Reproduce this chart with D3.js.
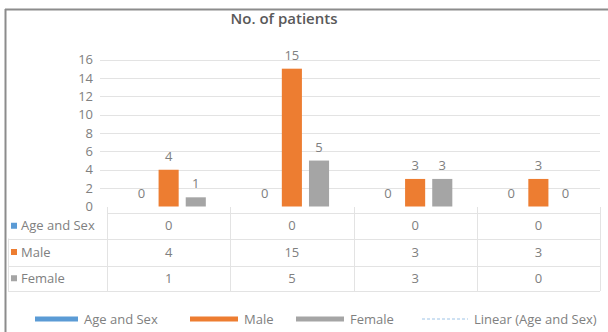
<!DOCTYPE html>
<html>
<head>
<meta charset="utf-8">
<script src="https://cdn.jsdelivr.net/npm/d3@7"></script>
<style>
  html, body { margin: 0; padding: 0; background: #fff; }
  svg { display: block; font-family: "Open Sans", "Liberation Sans", sans-serif; }
</style>
</head>
<body>
<svg id="chart" width="608" height="332"></svg>
<script>
// Chart data
const categories = ["g1", "g2", "g3", "g4"];
const seriesNames = ["Age and Sex", "Male", "Female"];
const ageAndSex = [0, 0, 0, 0];
const male = [4, 15, 3, 3];
const female = [1, 5, 3, 0];
const yTicks = [0, 2, 4, 6, 8, 10, 12, 14, 16];
const colors = ["#5B9BD5", "#ED7D31", "#A5A5A5"];
const trendName = "Linear (Age and Sex)";

const series = [ageAndSex, male, female];
const svg = d3.select("#chart");
const textColor = "#808080";
const fs = 13;

// Outer frame (top and left edges)
svg.append("line").attr("x1", 5).attr("x2", 608).attr("y1", 9.5).attr("y2", 9.5)
  .attr("stroke", "#8c8c8c").attr("stroke-width", 2);
svg.append("line").attr("x1", 5.5).attr("x2", 5.5).attr("y1", 9).attr("y2", 332)
  .attr("stroke", "#8c8c8c").attr("stroke-width", 2);

// Title
svg.append("text").attr("x", 284).attr("y", 24).attr("text-anchor", "middle")
  .attr("font-size", 15).attr("font-weight", 600).attr("fill", "#595959")
  .text("No. of patients");

// Scales
const x = d3.scaleBand().domain(categories).range([107, 600]);
const y = d3.scaleLinear().domain([0, 16]).range([206.5, 59.5]);
const inner = d3.scaleBand().domain(seriesNames).range([0, x.bandwidth()])
  .paddingInner(0.26).paddingOuter(0.9);

// Gridlines
svg.append("g").selectAll("line").data(yTicks.filter(d => d > 0)).join("line")
  .attr("x1", 100).attr("x2", 600)
  .attr("y1", d => Math.round(y(d)) + 0.5).attr("y2", d => Math.round(y(d)) + 0.5)
  .attr("stroke", "#e3e3e3").attr("stroke-width", 1);

// Y axis
const yAxis = d3.axisLeft(y).tickValues(yTicks).tickSize(0).tickPadding(0);
const gy = svg.append("g").attr("transform", "translate(93,0)").call(yAxis);
gy.select(".domain").remove();
gy.selectAll("text").attr("fill", textColor).attr("font-size", fs)
  .attr("font-family", "Open Sans, sans-serif");

// Bars
const groups = svg.append("g").selectAll("g").data(categories).join("g")
  .attr("transform", d => `translate(${x(d)},0)`);
seriesNames.forEach((name, si) => {
  groups.append("rect")
    .attr("x", inner(name))
    .attr("width", inner.bandwidth())
    .attr("y", (d, i) => y(series[si][i]))
    .attr("height", (d, i) => y(0) - y(series[si][i]))
    .attr("fill", colors[si]);
  groups.append("text")
    .attr("x", inner(name) + inner.bandwidth() / 2)
    .attr("y", (d, i) => y(series[si][i]) - 9)
    .attr("text-anchor", "middle")
    .attr("font-size", fs).attr("fill", textColor)
    .text((d, i) => series[si][i]);
});

// Data table below the plot
const rowTop = 213, rowH = [25.5, 27, 25.5];
const rowY = [rowTop, rowTop + rowH[0], rowTop + rowH[0] + rowH[1], rowTop + rowH[0] + rowH[1] + rowH[2]];
const table = svg.append("g");
rowY.forEach((ry, k) => {
  table.append("line").attr("x1", k === 0 ? 107 : 8).attr("x2", 600)
    .attr("y1", Math.round(ry) + 0.5).attr("y2", Math.round(ry) + 0.5)
    .attr("stroke", "#e3e3e3");
});
table.append("line").attr("x1", 8.5).attr("x2", 8.5).attr("y1", rowY[1]).attr("y2", rowY[3])
  .attr("stroke", "#e3e3e3");
[...categories.map(c => x(c)), 600].forEach(cx => {
  table.append("line").attr("x1", Math.round(cx) + 0.5).attr("x2", Math.round(cx) + 0.5)
    .attr("y1", 207).attr("y2", rowY[3]).attr("stroke", "#e3e3e3");
});
seriesNames.forEach((name, si) => {
  const cy = (rowY[si] + rowY[si + 1]) / 2;
  table.append("rect").attr("x", 11).attr("y", cy - 3).attr("width", 6).attr("height", 6)
    .attr("fill", colors[si]);
  table.append("text").attr("x", 21).attr("y", cy + 4.5).attr("font-size", fs)
    .attr("fill", textColor).text(name);
  categories.forEach((c, ci) => {
    table.append("text").attr("x", x(c) + x.bandwidth() / 2).attr("y", cy + 4.5)
      .attr("text-anchor", "middle").attr("font-size", fs).attr("fill", textColor)
      .text(series[si][ci]);
  });
});

// Legend
const legendY = 319;
const legendItems = [
  { name: seriesNames[0], color: colors[0], x: 35, dash: null, w: 43, sw: 5 },
  { name: seriesNames[1], color: colors[1], x: 190, dash: null, w: 48, sw: 5 },
  { name: seriesNames[2], color: colors[2], x: 296, dash: null, w: 48, sw: 5 },
  { name: trendName, color: "#9DC3E6", x: 422, dash: "3,2", w: 46, sw: 1 }
];
const lg = svg.append("g");
legendItems.forEach(it => {
  lg.append("line").attr("x1", it.x).attr("x2", it.x + it.w)
    .attr("y1", legendY).attr("y2", legendY)
    .attr("stroke", it.color).attr("stroke-width", it.sw)
    .attr("stroke-dasharray", it.dash);
  lg.append("text").attr("x", it.x + it.w + 6).attr("y", legendY + 4.5)
    .attr("font-size", fs).attr("fill", textColor).text(it.name);
});
</script>
</body>
</html>
